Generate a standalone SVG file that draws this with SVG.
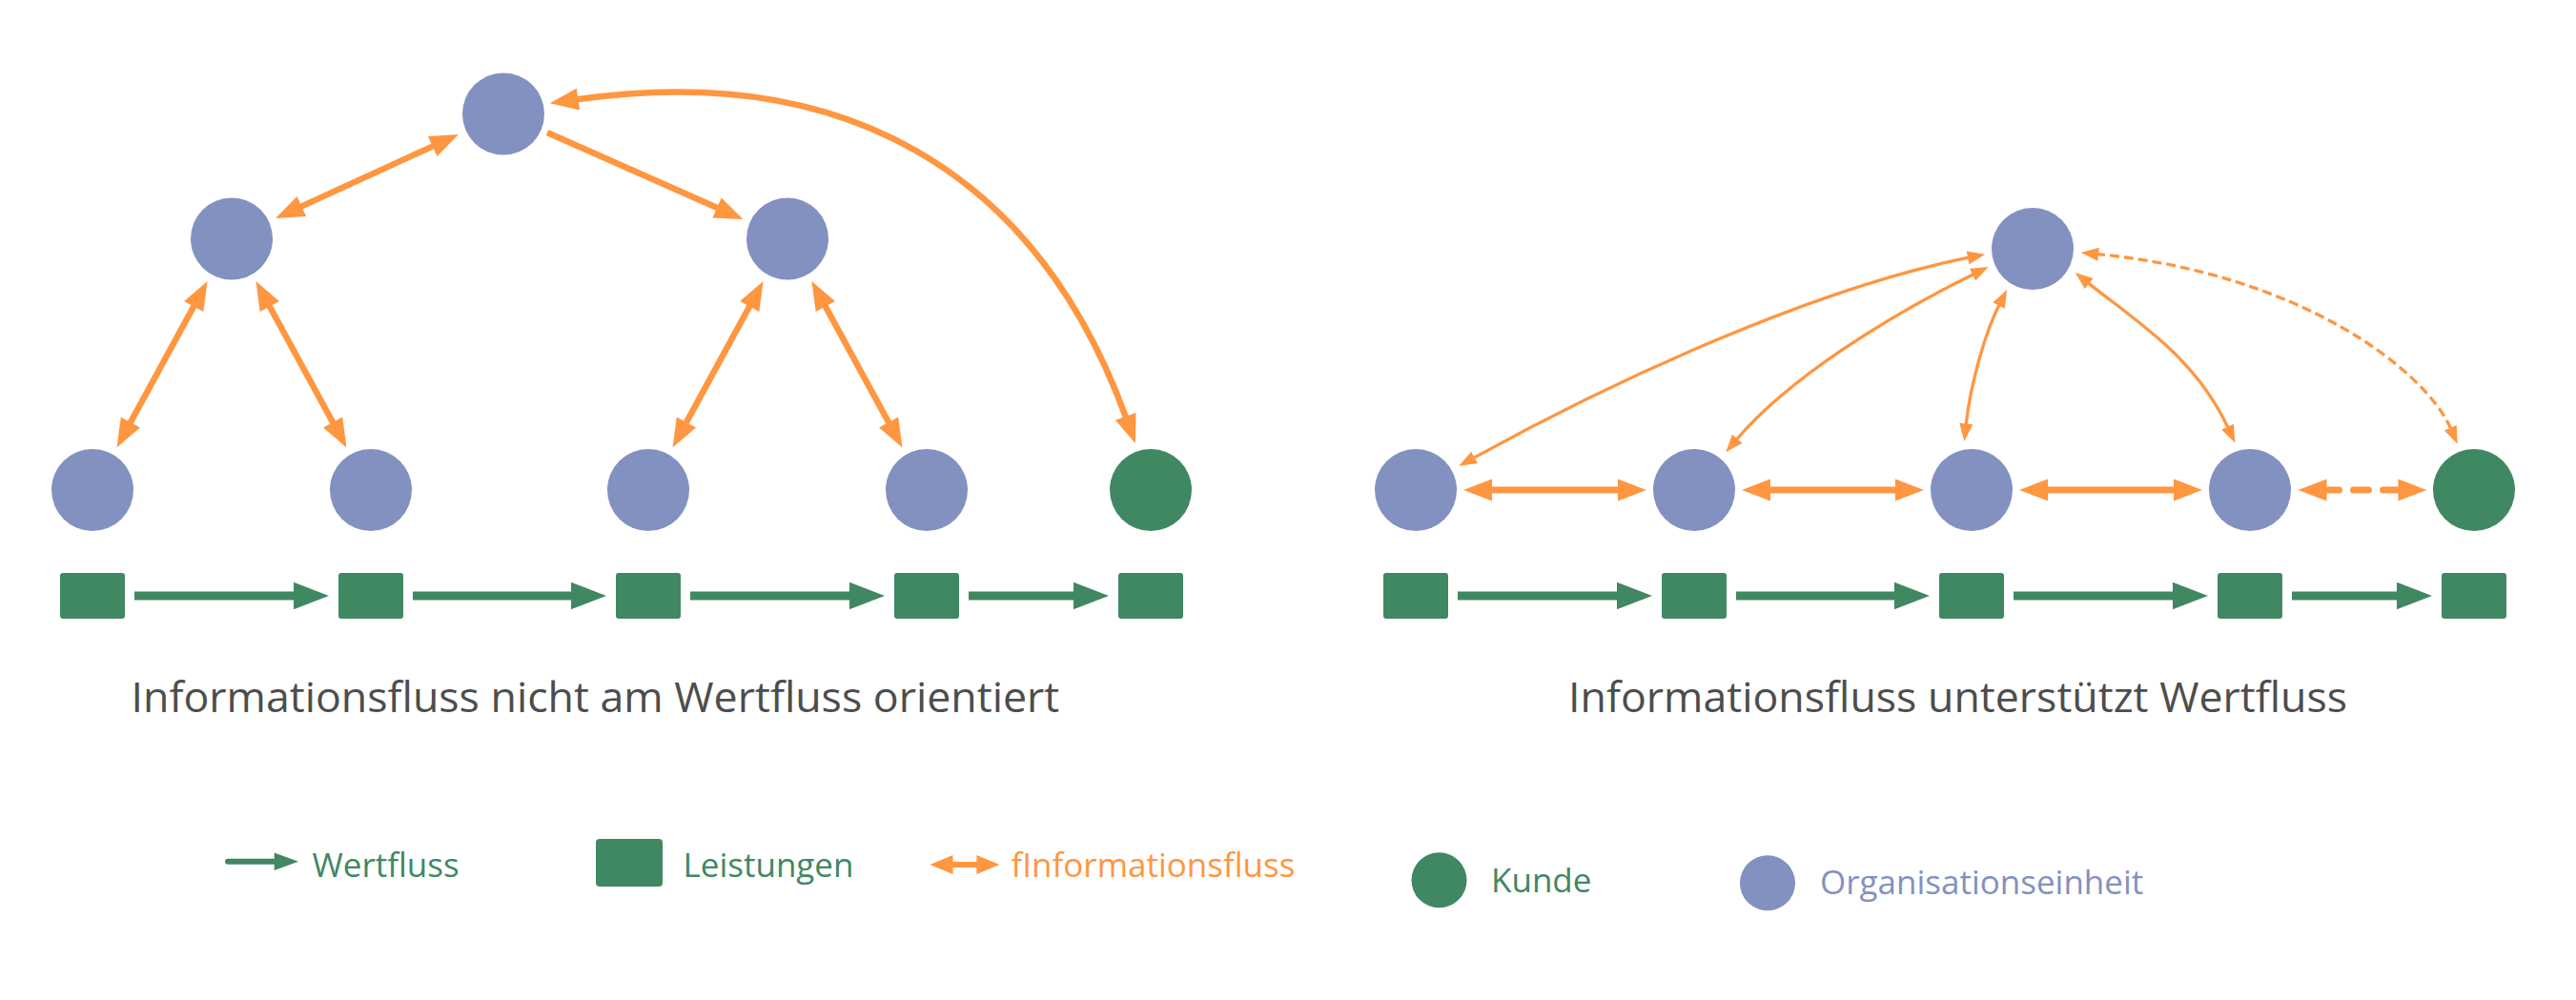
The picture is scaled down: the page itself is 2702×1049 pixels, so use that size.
<svg xmlns="http://www.w3.org/2000/svg" width="2702" height="1049" viewBox="0 0 2702 1049">
  <style>
    .org { fill: #8391C1; }
    .cust { fill: #408862; }
    .leis { fill: #408862; }
    .vf { stroke: #408862; stroke-width: 9; fill: none; }
    .thick { stroke: #FF9640; stroke-width: 6.5; fill: none; }
    .hor { stroke: #FF9640; stroke-width: 7; fill: none; }
    .thin { stroke: #FF9640; stroke-width: 3.3; fill: none; }
    .title { font-family: "Open Sans", "Noto Sans", "Liberation Sans", sans-serif; font-size: 44.7px; fill: #4D4D4D; }
    .leg { font-family: "Open Sans", "Noto Sans", "Liberation Sans", sans-serif; font-size: 35px; }
  </style>
  <defs>
    <marker id="mThick" markerUnits="userSpaceOnUse" markerWidth="31" markerHeight="23" refX="1" refY="11.5" orient="auto-start-reverse" overflow="visible">
      <path d="M0,0 L30,11.5 L0,23 Z" fill="#FF9640"/>
    </marker>
    <marker id="mThin" markerUnits="userSpaceOnUse" markerWidth="19" markerHeight="14" refX="1" refY="7" orient="auto-start-reverse" overflow="visible">
      <path d="M0,0 L18.5,7 L0,14 Z" fill="#FF9640"/>
    </marker>
    <marker id="mGreen" markerUnits="userSpaceOnUse" markerWidth="37" markerHeight="29" refX="1" refY="14.3" orient="auto" overflow="visible">
      <path d="M0,0 L37,14.3 L0,28.6 Z" fill="#408862"/>
    </marker>
  </defs>
  <rect x="0" y="0" width="2702" height="1049" fill="#FFFFFF"/>

  <!-- Left diagram nodes -->
  <g id="L-top"><circle class="org" cx="528" cy="119.5" r="43"/></g>
  <g id="L-mid1"><circle class="org" cx="243" cy="250.5" r="43"/></g>
  <g id="L-mid2"><circle class="org" cx="826" cy="250.5" r="43"/></g>
  <g id="L-b1"><circle class="org" cx="97" cy="514" r="43"/></g>
  <g id="L-b2"><circle class="org" cx="389" cy="514" r="43"/></g>
  <g id="L-b3"><circle class="org" cx="680" cy="514" r="43"/></g>
  <g id="L-b4"><circle class="org" cx="972" cy="514" r="43"/></g>
  <g id="L-kunde"><circle class="cust" cx="1207" cy="514" r="43"/></g>
  <g id="L-s1"><rect class="leis" x="63" y="601" width="68" height="48" rx="3"/></g>
  <g id="L-s2"><rect class="leis" x="355" y="601" width="68" height="48" rx="3"/></g>
  <g id="L-s3"><rect class="leis" x="646" y="601" width="68" height="48" rx="3"/></g>
  <g id="L-s4"><rect class="leis" x="938" y="601" width="68" height="48" rx="3"/></g>
  <g id="L-s5"><rect class="leis" x="1173" y="601" width="68" height="48" rx="3"/></g>

  <!-- Right diagram nodes -->
  <g id="R-top"><circle class="org" cx="2132" cy="261" r="43"/></g>
  <g id="R-b1"><circle class="org" cx="1485" cy="514" r="43"/></g>
  <g id="R-b2"><circle class="org" cx="1777" cy="514" r="43"/></g>
  <g id="R-b3"><circle class="org" cx="2068" cy="514" r="43"/></g>
  <g id="R-b4"><circle class="org" cx="2360" cy="514" r="43"/></g>
  <g id="R-kunde"><circle class="cust" cx="2595" cy="514" r="43"/></g>
  <g id="R-s1"><rect class="leis" x="1451" y="601" width="68" height="48" rx="3"/></g>
  <g id="R-s2"><rect class="leis" x="1743" y="601" width="68" height="48" rx="3"/></g>
  <g id="R-s3"><rect class="leis" x="2034" y="601" width="68" height="48" rx="3"/></g>
  <g id="R-s4"><rect class="leis" x="2326" y="601" width="68" height="48" rx="3"/></g>
  <g id="R-s5"><rect class="leis" x="2561" y="601" width="68" height="48" rx="3"/></g>

  <!-- Connectors -->
  <g id="connectors">
    <!-- left: information flow (hierarchy) -->
    <line class="thick" x1="315.4" y1="216.9" x2="454.6" y2="153.1" marker-start="url(#mThick)" marker-end="url(#mThick)"/>
    <line class="thick" x1="574" y1="139" x2="752.9" y2="218.3" marker-end="url(#mThick)"/>
    <line class="thick" x1="203.7" y1="320.5" x2="136.4" y2="444" marker-start="url(#mThick)" marker-end="url(#mThick)"/>
    <line class="thick" x1="282.3" y1="320.5" x2="349.6" y2="444" marker-start="url(#mThick)" marker-end="url(#mThick)"/>
    <line class="thick" x1="786.7" y1="320.5" x2="719.4" y2="444" marker-start="url(#mThick)" marker-end="url(#mThick)"/>
    <line class="thick" x1="865.3" y1="320.5" x2="932.6" y2="444" marker-start="url(#mThick)" marker-end="url(#mThick)"/>
    <path class="thick" d="M605.4,104.2 C880,65 1085,175 1181,437.8" marker-start="url(#mThick)" marker-end="url(#mThick)"/>

    <!-- left: value flow -->
    <line class="vf" x1="141" y1="625" x2="309" y2="625" marker-end="url(#mGreen)"/>
    <line class="vf" x1="433" y1="625" x2="600" y2="625" marker-end="url(#mGreen)"/>
    <line class="vf" x1="724" y1="625" x2="892" y2="625" marker-end="url(#mGreen)"/>
    <line class="vf" x1="1016" y1="625" x2="1127" y2="625" marker-end="url(#mGreen)"/>

    <!-- right: information flow -->
    <path class="thin" d="M1545.7,480.4 C1692.5,399.6 1900.8,303 2065.1,270.1" marker-start="url(#mThin)" marker-end="url(#mThin)"/>
    <path class="thin" d="M1821.6,461 C1875,398.1 1977.9,332.8 2070,287.7" marker-start="url(#mThin)" marker-end="url(#mThin)"/>
    <path class="thin" d="M2062.2,445.5 C2066.7,403.3 2082.4,348.5 2097.1,319.6" marker-start="url(#mThin)" marker-end="url(#mThin)"/>
    <path class="thin" d="M2337,448.7 C2302.4,373.9 2239.1,336 2190.4,296.9" marker-start="url(#mThin)" marker-end="url(#mThin)"/>
    <path class="thin" d="M2570.7,449.7 C2543.7,387.8 2411.8,286.6 2200.1,266.6" stroke-width="3.8" stroke-dasharray="10 5" marker-start="url(#mThin)" marker-end="url(#mThin)"/>

    <line class="hor" x1="1564" y1="514" x2="1698" y2="514" marker-start="url(#mThick)" marker-end="url(#mThick)"/>
    <line class="hor" x1="1856" y1="514" x2="1989" y2="514" marker-start="url(#mThick)" marker-end="url(#mThick)"/>
    <line class="hor" x1="2147" y1="514" x2="2281" y2="514" marker-start="url(#mThick)" marker-end="url(#mThick)"/>
    <line class="hor" x1="2439.5" y1="514" x2="2516.5" y2="514" stroke-linecap="round" stroke-dasharray="16 15" stroke-dashoffset="2" marker-start="url(#mThick)" marker-end="url(#mThick)"/>

    <!-- right: value flow -->
    <line class="vf" x1="1529" y1="625" x2="1697" y2="625" marker-end="url(#mGreen)"/>
    <line class="vf" x1="1821" y1="625" x2="1988" y2="625" marker-end="url(#mGreen)"/>
    <line class="vf" x1="2112" y1="625" x2="2280" y2="625" marker-end="url(#mGreen)"/>
    <line class="vf" x1="2404" y1="625" x2="2515" y2="625" marker-end="url(#mGreen)"/>
  </g>

  <!-- Titles -->
  <text class="title" x="137.5" y="746.7">Informationsfluss nicht am Wertfluss orientiert</text>
  <text class="title" x="1645" y="746.7">Informationsfluss unterstützt Wertfluss</text>

  <!-- Legend -->
  <g id="legend">
    <g id="leg-wertfluss">
      <line x1="239" y1="903.7" x2="289" y2="903.7" stroke="#408862" stroke-width="6" stroke-linecap="round"/>
      <path d="M287.7,894.4 L313,903.7 L287.7,913 Z" fill="#408862"/>
      <text class="leg" x="327.5" y="919.5" fill="#408862">Wertfluss</text>
    </g>
    <g id="leg-leistungen">
      <rect x="625" y="880" width="70" height="50" rx="4" fill="#408862"/>
      <text class="leg" x="716.5" y="920" fill="#408862">Leistungen</text>
    </g>
    <g id="leg-info">
      <line x1="998" y1="907" x2="1026" y2="907" stroke="#FF9640" stroke-width="6"/>
      <path d="M999.5,897 L975.5,907 L999.5,917 Z" fill="#FF9640"/>
      <path d="M1024.4,897 L1048.4,907 L1024.4,917 Z" fill="#FF9640"/>
      <text class="leg" x="1060.5" y="919.5" fill="#FF9640">fInformationsfluss</text>
    </g>
    <g id="leg-kunde">
      <circle cx="1509.5" cy="923.3" r="29" fill="#408862"/>
      <text class="leg" x="1564" y="935.7" fill="#408862">Kunde</text>
    </g>
    <g id="leg-org">
      <circle cx="1854" cy="926.3" r="29" fill="#8391C1"/>
      <text class="leg" x="1909" y="938.3" fill="#8391C1">Organisationseinheit</text>
    </g>
  </g>
</svg>
